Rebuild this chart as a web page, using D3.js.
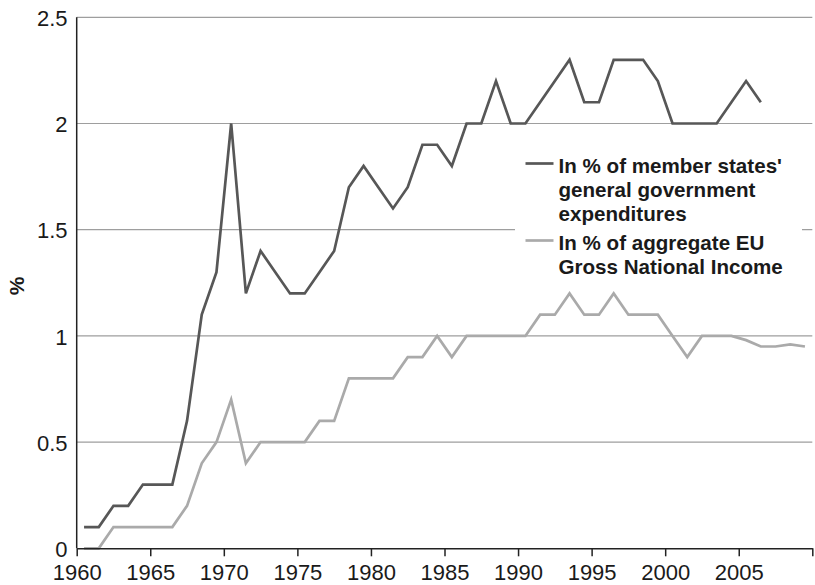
<!DOCTYPE html>
<html>
<head>
<meta charset="utf-8">
<script src="https://cdn.jsdelivr.net/npm/d3@7"></script>
<style>
  html, body { margin: 0; padding: 0; background: #fff; }
  svg { display: block; }
  text { font-family: "Liberation Sans", Arial, Helvetica, sans-serif; }
</style>
</head>
<body>
<svg id="chart" width="815" height="585"></svg>
<script>
// ---- data ----
const years = d3.range(1960, 2010);
const expenditureShare = [
  0.1, 0.1, 0.2, 0.2, 0.3, 0.3, 0.3, 0.6, 1.1, 1.3,
  2.0, 1.2, 1.4, 1.3, 1.2, 1.2, 1.3, 1.4, 1.7, 1.8,
  1.7, 1.6, 1.7, 1.9, 1.9, 1.8, 2.0, 2.0, 2.2, 2.0,
  2.0, 2.1, 2.2, 2.3, 2.1, 2.1, 2.3, 2.3, 2.3, 2.2,
  2.0, 2.0, 2.0, 2.0, 2.1, 2.2, 2.1
];
const gniShare = [
  0.0, 0.0, 0.1, 0.1, 0.1, 0.1, 0.1, 0.2, 0.4, 0.5,
  0.7, 0.4, 0.5, 0.5, 0.5, 0.5, 0.6, 0.6, 0.8, 0.8,
  0.8, 0.8, 0.9, 0.9, 1.0, 0.9, 1.0, 1.0, 1.0, 1.0,
  1.0, 1.1, 1.1, 1.2, 1.1, 1.1, 1.2, 1.1, 1.1, 1.1,
  1.0, 0.9, 1.0, 1.0, 1.0, 0.98, 0.95, 0.95, 0.96, 0.95
];
const yTicks = [0, 0.5, 1, 1.5, 2, 2.5];
const xTicks = [1960, 1965, 1970, 1975, 1980, 1985, 1990, 1995, 2000, 2005, 2010];
const xTickLabels = ["1960", "1965", "1970", "1975", "1980", "1985", "1990", "1995", "2000", "2005", ""];
const yLabel = "%";
const legendEntries = [
  { lines: ["In % of member states'", "general government", "expenditures"], color: "#575757" },
  { lines: ["In % of aggregate EU", "Gross National Income"], color: "#aaaaaa" }
];

// ---- layout ----
const svg = d3.select("#chart");
const mLeft = 76.7, mRight = 812.3, mTop = 17.3, mBottom = 548.3;
const x = d3.scaleLinear().domain([1960, 2010]).range([mLeft, mRight]);
const y = d3.scaleLinear().domain([0, 2.5]).range([mBottom, mTop]);

// gridlines
svg.append("g").selectAll("line").data(yTicks.filter(v => v > 0)).join("line")
  .attr("x1", mLeft).attr("x2", mRight)
  .attr("y1", d => y(d)).attr("y2", d => y(d))
  .attr("stroke", "#9e9e9e").attr("stroke-width", 1.2);

// y tick labels
svg.append("g").selectAll("text").data(yTicks).join("text")
  .attr("x", 67.5).attr("y", d => y(d) + 8.7)
  .attr("text-anchor", "end").attr("font-size", 22).attr("fill", "#1a1a1a")
  .text(d => d3.format("")(d));

// y label
svg.append("text")
  .attr("transform", "translate(24,286) rotate(-90)")
  .attr("text-anchor", "middle").attr("font-size", 21).attr("font-weight", "bold")
  .attr("fill", "#1a1a1a").text(yLabel);

// lines
const lineGen = d3.line().x(d => x(d[0] + 0.5)).y(d => y(d[1]));
svg.append("path")
  .datum(gniShare.map((v, i) => [years[i], v]))
  .attr("d", lineGen).attr("fill", "none")
  .attr("stroke", legendEntries[1].color).attr("stroke-width", 2.7)
  .attr("stroke-linejoin", "miter");
svg.append("path")
  .datum(expenditureShare.map((v, i) => [years[i], v]))
  .attr("d", lineGen).attr("fill", "none")
  .attr("stroke", legendEntries[0].color).attr("stroke-width", 2.7)
  .attr("stroke-linejoin", "miter");

// axes
const xAxis = d3.axisBottom(x).tickValues(xTicks).tickSize(8).tickSizeOuter(0)
  .tickFormat((d, i) => xTickLabels[i]);
const gx = svg.append("g").attr("transform", `translate(0,${mBottom})`).call(xAxis);
gx.select(".domain").attr("stroke", "#222").attr("stroke-width", 1.5);
gx.selectAll(".tick line").attr("stroke", "#222").attr("stroke-width", 1.5);
gx.selectAll(".tick text").attr("font-size", 22).attr("fill", "#1a1a1a")
  .attr("font-family", "Liberation Sans, Arial, sans-serif").attr("y", 31.7).attr("dy", 0);

svg.append("line")
  .attr("x1", mLeft).attr("x2", mLeft).attr("y1", mTop).attr("y2", mBottom)
  .attr("stroke", "#222").attr("stroke-width", 1.5);

// legend
const lg = svg.append("g");
lg.append("rect").attr("x", 515).attr("y", 148).attr("width", 287).attr("height", 136).attr("fill", "#fff");
const baselines = [[172.5, 196.5, 220.5], [249.5, 274]];
legendEntries.forEach((e, k) => {
  const b = baselines[k];
  lg.append("line").attr("x1", 525.5).attr("x2", 553.5)
    .attr("y1", b[0] - 9).attr("y2", b[0] - 9)
    .attr("stroke", e.color).attr("stroke-width", 2.7);
  e.lines.forEach((t, j) => {
    lg.append("text").attr("x", 558.5).attr("y", b[j])
      .attr("font-size", 20.6).attr("font-weight", "bold").attr("fill", "#1a1a1a").text(t);
  });
});
</script>
</body>
</html>
